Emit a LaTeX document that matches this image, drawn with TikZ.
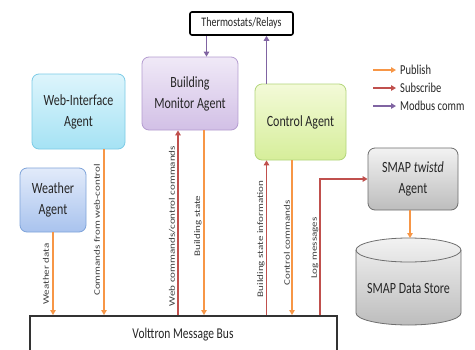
\documentclass[tikz,border=0pt]{standalone}
\usepackage{fontspec}
\setmainfont{Carlito}
\usetikzlibrary{arrows.meta}
\definecolor{pub}{HTML}{F79646}
\definecolor{sub}{HTML}{C0504D}
\definecolor{mod}{HTML}{8064A2}
\definecolor{txt}{HTML}{262626}
\definecolor{lbltxt}{HTML}{404040}
\definecolor{webT}{HTML}{DDF5FC}
\definecolor{webBt}{HTML}{A5E2F4}
\definecolor{webD}{HTML}{7CCBE6}
\definecolor{bmT}{HTML}{F0E9F7}
\definecolor{bmBt}{HTML}{D2C0E6}
\definecolor{bmD}{HTML}{B49CD0}
\definecolor{wT}{HTML}{E2EBFA}
\definecolor{wBt}{HTML}{A9C3EE}
\definecolor{wD}{HTML}{7FA4DA}
\definecolor{cT}{HTML}{F3FAD8}
\definecolor{cBt}{HTML}{D6EE9A}
\definecolor{cD}{HTML}{B2D57A}
\definecolor{sT}{HTML}{F2F2F2}
\definecolor{sBt}{HTML}{BDBDBD}
\definecolor{sD}{HTML}{6E6E6E}
\definecolor{busD}{HTML}{333333}
\newcommand{\vsc}[1]{\scalebox{1}[1.3]{#1}}
\newcommand{\hsc}[1]{\scalebox{1.3}[1]{#1}}
\tikzset{
  agent/.style={draw, rounded corners=7pt, line width=0.8pt, font=\fontsize{12}{16}\selectfont, text=txt, inner sep=0pt},
  flow/.style={line width=1.4pt, -{Triangle[width=5.5pt,length=5pt]}},
  pubarrow/.style={flow, draw=pub},
  subarrow/.style={flow, draw=sub},
  modarrow/.style={flow, draw=mod},
  lbl/.style={rotate=90, font=\fontsize{8.5}{10}\selectfont, text=lbltxt, inner sep=0pt},
  legtxt/.style={anchor=west, font=\fontsize{10.5}{12}\selectfont, text=txt, inner sep=0pt}
}
\begin{document}
\begin{tikzpicture}[x=1pt,y=-1pt]
\useasboundingbox (0,0) rectangle (475,349);
\clip (0,0) rectangle (475,349);
\fill[white] (0,0) rectangle (475,349);

% nodes
\node[draw=black, line width=1.6pt, rounded corners=2pt, fill=white, minimum width=103pt, minimum height=23pt, inner sep=0pt, font=\fontsize{10}{12}\selectfont, text=txt] (thermo) at (241.5,23.5) {\vsc{Thermostats/Relays}};
\node[agent, draw=bmD, top color=bmT, bottom color=bmBt, minimum width=96pt, minimum height=73pt] (bm) at (190,93.5) {\vsc{\begin{tabular}{@{}c@{}}Building\\Monitor Agent\end{tabular}}};
\node[agent, draw=webD, top color=webT, bottom color=webBt, minimum width=93pt, minimum height=75pt] (web) at (78.5,111.5) {\vsc{\begin{tabular}{@{}c@{}}Web-Interface\\Agent\end{tabular}}};
\node[agent, draw=wD, top color=wT, bottom color=wBt, minimum width=66pt, minimum height=64pt] (weather) at (53,200) {\vsc{\begin{tabular}{@{}c@{}}Weather\\Agent\end{tabular}}};
\node[agent, draw=cD, top color=cT, bottom color=cBt, minimum width=91pt, minimum height=76pt] (control) at (300.5,122) {\vsc{Control Agent}};
\node[agent, draw=sD, top color=sT, bottom color=sBt, minimum width=90pt, minimum height=62pt] (smap) at (413,179) {\vsc{\begin{tabular}{@{}c@{}}SMAP \textit{twistd}\\Agent\end{tabular}}};

% data store cylinder
\shade[top color=sT, bottom color=sBt, draw=sD, line width=0.8pt]
  (356,250) -- (356,313) arc[start angle=180, end angle=360, x radius=52.5pt, y radius=12pt]
  -- (461,250) arc[start angle=0, end angle=180, x radius=52.5pt, y radius=12pt] -- cycle;
\draw[sD, line width=0.8pt] (356,250) arc[start angle=180, end angle=360, x radius=52.5pt, y radius=12pt];
\node[font=\fontsize{12}{14}\selectfont, text=txt, inner sep=0pt] (store) at (408.5,288) {\vsc{SMAP Data Store}};
\coordinate (storetop) at (410,238);

% bus
\node[draw=busD, line width=2pt, fill=white, minimum width=307pt, minimum height=40pt, inner sep=0pt] (bus) at (183.5,336) {};
\node[font=\fontsize{11.5}{13}\selectfont, text=txt, inner sep=0pt] (bustext) at (183,335) {\vsc{Volttron Message Bus}};

% columns
\coordinate (xa) at (53,0);
\coordinate (xb) at (104,0);
\coordinate (xc) at (178,0);
\coordinate (xd) at (204,0);
\coordinate (xd2) at (206.5,0);
\coordinate (xe) at (266.5,0);
\coordinate (xf) at (292,0);
\coordinate (xg) at (320,0);
\coordinate (xh) at (410,0);

% connectors
\draw[pubarrow] (weather.south -| xa) -- (bus.north -| xa);
\draw[pubarrow] (web.south -| xb) -- (bus.north -| xb);
\draw[subarrow] (bus.north -| xc) -- (bm.south -| xc);
\draw[pubarrow] (bm.south -| xd) -- (bus.north -| xd);
\draw[modarrow] (thermo.south -| xd2) -- (bm.north -| xd2);
\draw[modarrow] (control.north -| xe) -- (thermo.south -| xe);
\draw[subarrow] (bus.north -| xe) -- (control.south -| xe);
\draw[pubarrow] (control.south -| xf) -- (bus.north -| xf);
\draw[subarrow] (bus.north -| xg) |- (smap.west);
\draw[pubarrow] (smap.south -| xh) -- (storetop);

% labels
\node[lbl] (l1) at (46,274) {\hsc{Weather data}};
\node[lbl] (l2) at (97,230) {\hsc{Commands from web-control}};
\node[lbl] (l3) at (172,226) {\hsc{Web commands/control commands}};
\node[lbl] (l4) at (198,226) {\hsc{Building state}};
\node[lbl] (l5) at (261,239) {\hsc{Building state information}};
\node[lbl] (l6) at (287,243) {\hsc{Control commands}};
\node[lbl] (l7) at (315,248) {\hsc{Log messages}};

% legend
\coordinate (p1) at (373,70); \coordinate (p2) at (396,70);
\coordinate (s1) at (373,88); \coordinate (s2) at (396,88);
\coordinate (m1) at (373,106); \coordinate (m2) at (396,106);
\draw[pubarrow, line width=2pt] (p1) -- (p2);
\draw[subarrow, line width=2pt] (s1) -- (s2);
\draw[modarrow, line width=2pt] (m1) -- (m2);
\node[legtxt] (lp) at (400,70) {\vsc{Publish}};
\node[legtxt] (ls) at (400,88) {\vsc{Subscribe}};
\node[legtxt] (lm) at (400,106) {\vsc{Modbus comm}};
\end{tikzpicture}
\end{document}
